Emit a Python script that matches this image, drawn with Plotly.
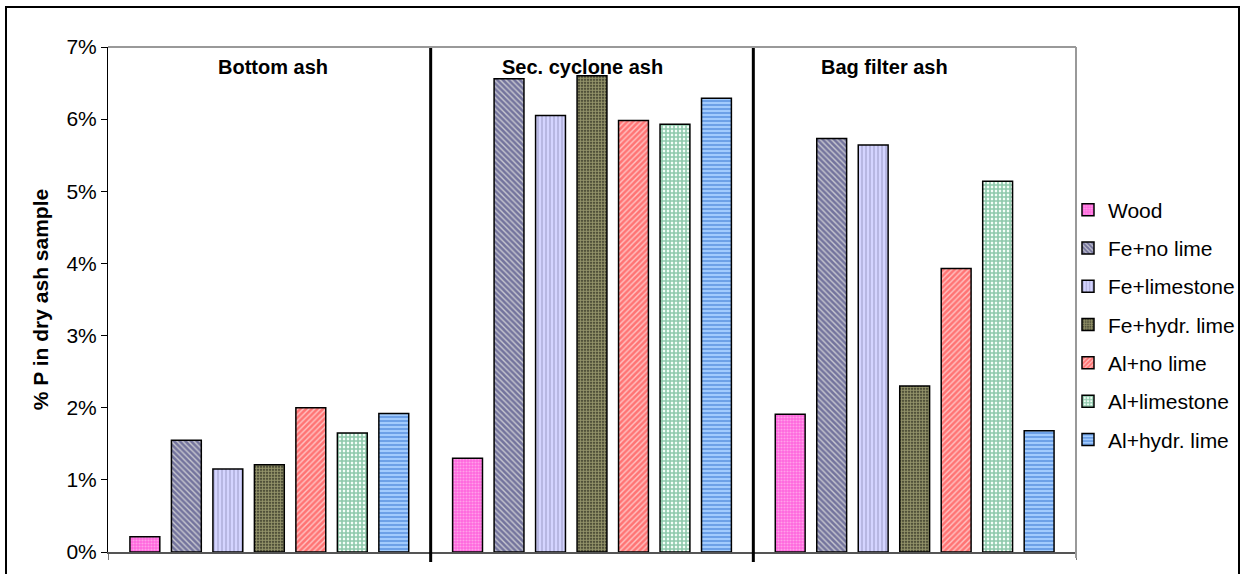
import plotly.graph_objects as go

groups = ["Bottom ash", "Sec. cyclone ash", "Bag filter ash"]
series_names = ["Wood", "Fe+no lime", "Fe+limestone", "Fe+hydr. lime",
                "Al+no lime", "Al+limestone", "Al+hydr. lime"]

wood = [0.21, 1.30, 1.91]
fe_no_lime = [1.55, 6.56, 5.73]
fe_limestone = [1.15, 6.05, 5.64]
fe_hydr_lime = [1.21, 6.60, 2.30]
al_no_lime = [2.00, 5.98, 3.93]
al_limestone = [1.65, 5.93, 5.14]
al_hydr_lime = [1.92, 6.29, 1.68]

y_ticks = [0, 1, 2, 3, 4, 5, 6, 7]

series_values = [wood, fe_no_lime, fe_limestone, fe_hydr_lime,
                 al_no_lime, al_limestone, al_hydr_lime]

patterns = [
    dict(shape=".", bgcolor="#FF66DD", fgcolor="#FFD9F5", size=3, solidity=0.4),
    dict(shape="\\", bgcolor="#C8C8D0", fgcolor="#20206A", size=4, solidity=0.65),
    dict(shape="|", bgcolor="#D4D4FF", fgcolor="#9494BE", size=4, solidity=0.45),
    dict(shape=".", bgcolor="#26261A", fgcolor="#FFFFB8", size=3, solidity=0.7),
    dict(shape="/", bgcolor="#FFC4C4", fgcolor="#FF2424", size=4, solidity=0.65),
    dict(shape="+", bgcolor="#F4FFF8", fgcolor="#27925E", size=4, solidity=0.65),
    dict(shape="-", bgcolor="#A8D0FF", fgcolor="#3070D0", size=4, solidity=0.55),
]

FONT = "Liberation Sans, Arial, sans-serif"

fig = go.Figure()
for i, (name, vals) in enumerate(zip(series_names, series_values)):
    fig.add_trace(go.Bar(
        name=name, x=groups, y=vals, legendgroup=f"g{i}",
        marker=dict(pattern=patterns[i], line=dict(color="#000000", width=1.5)),
    ))

# plot area geometry in pixels (for paper conversions)
CW, CH = 1248, 574
L, R, T, B = 108, 1076, 47, 552
W, H = R - L, B - T

def px(xp):
    return (xp - L) / W

def py(yp):
    return (B - yp) / H

shapes = []
# group separators
for xv in [0.5, 1.5]:
    shapes.append(dict(type="line", xref="x", yref="paper", x0=xv, x1=xv,
                       y0=py(562), y1=1, line=dict(color="#000000", width=3)))
# top and right plot border
shapes.append(dict(type="line", xref="paper", yref="paper", x0=0, x1=1, y0=1, y1=1,
                   line=dict(color="#999999", width=2)))
shapes.append(dict(type="line", xref="paper", yref="paper", x0=1, x1=1, y0=py(558), y1=1,
                   line=dict(color="#999999", width=2)))
# outer chart frame
shapes.append(dict(type="rect", xref="paper", yref="paper", x0=px(6), x1=px(1239),
                   y0=py(600), y1=py(7), line=dict(color="#000000", width=2),
                   fillcolor="rgba(0,0,0,0)"))

annotations = []
for label, cx in zip(groups, [273, 582, 884]):
    annotations.append(dict(text=f"<b>{label}</b>", xref="paper", yref="paper",
                            x=px(cx), y=py(67), showarrow=False,
                            font=dict(family=FONT, size=20, color="#000000"),
                            xanchor="center", yanchor="middle"))

fig.update_layout(
    width=CW, height=CH,
    margin=dict(l=L, r=CW - R, t=T, b=CH - B, autoexpand=False),
    paper_bgcolor="#FFFFFF", plot_bgcolor="#FFFFFF",
    barmode="group", bargap=0.1, bargroupgap=0.28,
    font=dict(family=FONT, size=20, color="#000000"),
    shapes=shapes, annotations=annotations,
    legend=dict(xref="container", yref="container", x=1068 / CW, xanchor="left",
                y=(CH - 325) / CH, yanchor="middle",
                tracegroupgap=8, traceorder="grouped",
                font=dict(family=FONT, size=21, color="#000000"),
                bgcolor="rgba(0,0,0,0)"),
    xaxis=dict(showticklabels=False, showline=True, linecolor="#555555", linewidth=2,
               ticks="outside", tickson="boundaries", ticklen=6, tickcolor="#777777",
               showgrid=False, zeroline=False),
    yaxis=dict(range=[0, 7], tickvals=y_ticks, ticktext=[f"{v}%" for v in y_ticks],
               ticks="outside", ticklen=6, tickcolor="#000000", tickwidth=1,
               showline=True, linecolor="#000000", linewidth=1,
               showgrid=False, zeroline=False,
               tickfont=dict(family=FONT, size=21, color="#000000"),
               title=dict(text="<b>% P in dry ash sample</b>", standoff=12,
                          font=dict(family=FONT, size=21, color="#000000"))),
)

fig.write_html("out.html")
